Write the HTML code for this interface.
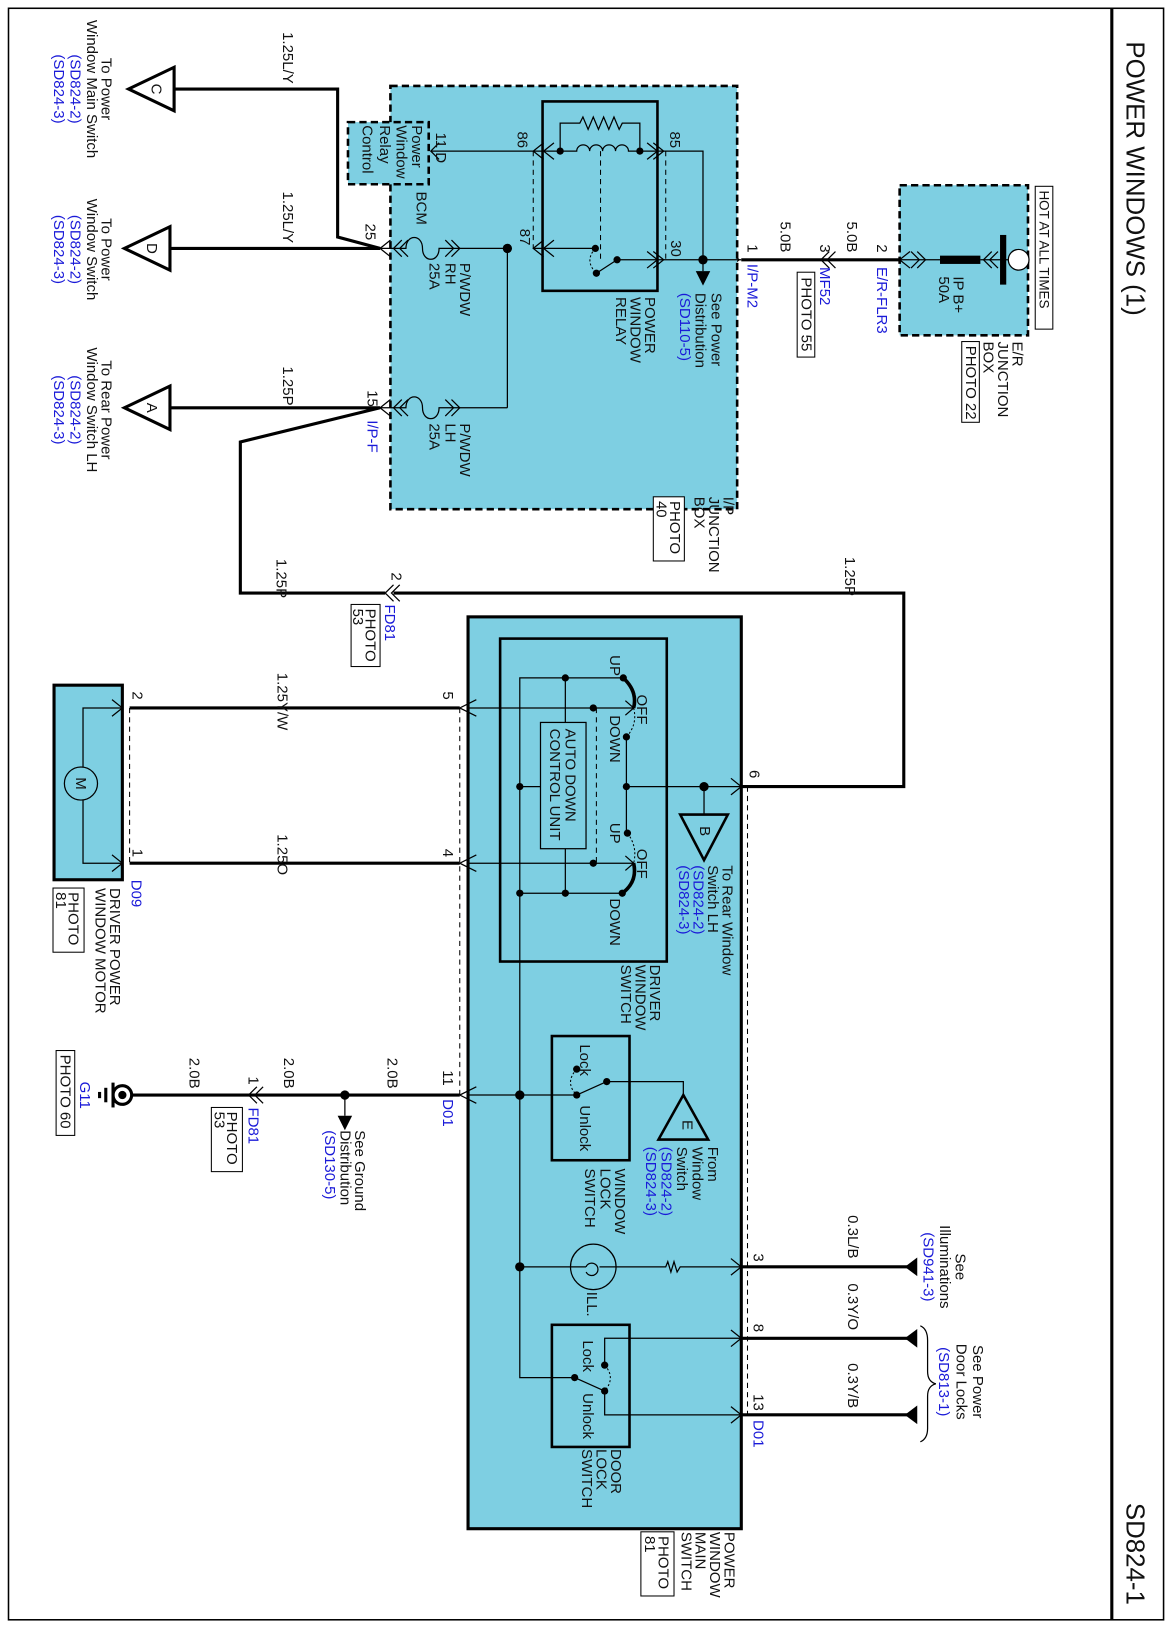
<!DOCTYPE html>
<html><head><meta charset="utf-8"><style>
html,body{margin:0;padding:0;background:#fff}
svg{display:block}
text{font-family:"Liberation Sans",Arial,sans-serif;font-size:14.5px;fill:#111}
.b{fill:#1a1ad8}
.t{stroke:#000;stroke-width:3;fill:none}
.n{stroke:#000;stroke-width:1.2;fill:none}
.d{stroke:#000;stroke-width:1;stroke-dasharray:5 4;fill:none}
.dd{stroke:#000;stroke-width:1;stroke-dasharray:2 2;fill:none}
.box{fill:#7ECFE2;stroke:#000;stroke-width:2.5;stroke-dasharray:7 4}
</style></head><body>
<svg width="1170" height="1626" viewBox="0 0 1130 1571" xmlns="http://www.w3.org/2000/svg">
<rect x="0" y="0" width="1130" height="1571" fill="#fff"/>
<rect x="8" y="8" width="1116" height="1557" fill="none" stroke="#000" stroke-width="1.5"/>
<line x1="1074" y1="8" x2="1074" y2="1565" stroke="#000" stroke-width="3"/>
<text transform="translate(1088,40) rotate(90)" style="font-size:25px">POWER WINDOWS (1)</text>
<text transform="translate(1088,1452) rotate(90)" style="font-size:25px">SD824-1</text>

<!-- E/R box -->
<rect x="869" y="179" width="124" height="145" class="box"/>
<path class="n" d="M869,251 H908 M947,251 H974"/>
<rect x="908" y="247" width="39" height="8" fill="#000"/>
<rect x="966" y="227" width="6" height="48" fill="#000"/>
<circle cx="984" cy="251" r="10" fill="#fff" stroke="#000" stroke-width="1.2"/>
<path class="n" d="M879,243 L869,251 L879,259 M880,243 L888,251 L880,259 M886,243 L894,251 L886,259 M958,243 L950,251 L958,259 M964,243 L956,251 L964,259"/>
<text transform="translate(921,267) rotate(90)">IP B+</text>
<text transform="translate(907,267) rotate(90)">50A</text>
<rect x="1000" y="180" width="17" height="138" fill="#fff" stroke="#000" stroke-width="1"/>
<text transform="translate(1004,184) rotate(90)" style="font-size:13px">HOT AT ALL TIMES</text>
<text transform="translate(978,330) rotate(90)">E/R</text>
<text transform="translate(964,330) rotate(90)">JUNCTION</text>
<text transform="translate(950,330) rotate(90)">BOX</text>
<rect x="929" y="330" width="17" height="78" fill="#fff" stroke="#000" stroke-width="1"/>
<text transform="translate(933,334) rotate(90)">PHOTO 22</text>

<!-- wire to I/P -->
<path class="t" d="M716,251 H869"/>
<path class="n" d="M801,243 L793,251 L801,259 M807,243 L799,251 L807,259 M704,243 L714,251 L704,259"/>
<text transform="translate(818,214) rotate(90)">5.0B</text>
<text transform="translate(754,214) rotate(90)">5.0B</text>
<text transform="translate(847,236) rotate(90)">2</text>
<text class="b" transform="translate(847,258) rotate(90)">E/R-FLR3</text>
<text transform="translate(792,236) rotate(90)">3</text>
<text class="b" transform="translate(792,258) rotate(90)">MF52</text>
<rect x="770" y="263" width="17" height="82" fill="#fff" stroke="#000" stroke-width="1"/>
<text transform="translate(774,268) rotate(90)">PHOTO 55</text>
<text transform="translate(722,236) rotate(90)">1</text>
<text class="b" transform="translate(722,255) rotate(90)">I/P-M2</text>

<!-- I/P box -->
<rect x="377" y="83" width="335" height="409" class="box"/>
<rect x="524" y="98" width="111" height="183" fill="none" stroke="#000" stroke-width="2.5"/>
<path class="n" d="M416,146 H541"/>
<path class="n" d="M541,146 H557 a6.25,6 0 0 1 12.5,0 a6.25,6 0 0 1 12.5,0 a6.25,6 0 0 1 12.5,0 a6.25,6 0 0 1 12.5,0 H618"/>
<path class="n" d="M541,146 V119 H560 l3,-6 l5,12 l5,-12 l5,12 l5,-12 l5,12 l5,-12 l5,12 l3,-6 H618 V146"/>
<circle cx="541" cy="146" r="3.5"/><circle cx="618" cy="146" r="3.5"/>
<path class="n" d="M618,146 H679 V262"/>
<path class="n" d="M525,138 L515,146 L525,154 M535,138 L525,146 L535,154 M631,138 L641,146 L631,154 M625,138 L635,146 L625,154"/>
<path class="n" d="M515,240 H575"/>
<path class="n" d="M525,232 L515,240 L525,248 M535,232 L525,240 L535,248 M631,243 L641,251 L631,259 M625,243 L635,251 L625,259"/>
<circle cx="575" cy="240" r="3.5"/><circle cx="576" cy="264" r="3.5"/><circle cx="596" cy="251" r="3.5"/>
<path class="n" d="M576,264 L596,251 M596,251 H716"/>
<path class="dd" d="M575,240 Q564,252 576,264"/>
<path class="d" d="M580,146 V252 M515,146 V240 M643,146 V251"/>
<circle cx="679" cy="251" r="4.5"/>
<polygon points="672,262 686,262 679,276" fill="#000"/>
<text transform="translate(623,287) rotate(90)">POWER</text>
<text transform="translate(609,287) rotate(90)">WINDOW</text>
<text transform="translate(595,287) rotate(90)">RELAY</text>
<text transform="translate(687,283) rotate(90)">See Power</text>
<text transform="translate(672,283) rotate(90)">Distribution</text>
<text class="b" transform="translate(657,283) rotate(90)">(SD110-5)</text>
<text transform="translate(500,127) rotate(90)">86</text>
<text transform="translate(647,127) rotate(90)">85</text>
<text transform="translate(502,221) rotate(90)">87</text>
<text transform="translate(648,232) rotate(90)">30</text>

<!-- fuses -->
<path class="n" d="M367,240 H392 c0,-14 16,-14 16,0 s16,14 16,0 H490 V394 M367,394 H392 c0,-14 16,-14 16,0 s16,14 16,0 H490"/>
<path class="n" d="M377,232 L367,240 L377,248 M388,232 L380,240 L388,248 M394,232 L386,240 L394,248 M430,232 L438,240 L430,248 M436,232 L444,240 L436,248"/>
<path class="n" d="M377,386 L367,394 L377,402 M388,386 L380,394 L388,402 M394,386 L386,394 L394,402 M430,386 L438,394 L430,402 M436,386 L444,394 L436,402"/>
<circle cx="490" cy="240" r="4.5"/>
<text transform="translate(444,254) rotate(90)">P/WDW</text>
<text transform="translate(430,254) rotate(90)">RH</text>
<text transform="translate(415,254) rotate(90)">25A</text>
<text transform="translate(444,409) rotate(90)">P/WDW</text>
<text transform="translate(430,409) rotate(90)">LH</text>
<text transform="translate(415,409) rotate(90)">25A</text>
<text transform="translate(699,480) rotate(90)">I/P</text>
<text transform="translate(685,480) rotate(90)">JUNCTION</text>
<text transform="translate(671,480) rotate(90)">BOX</text>
<rect x="631" y="480" width="30" height="62" fill="#fff" stroke="#000" stroke-width="1"/>
<text transform="translate(647,484) rotate(90)">PHOTO</text>
<text transform="translate(634,484) rotate(90)">40</text>

<!-- BCM -->
<rect x="336" y="118" width="78" height="60" class="box"/>
<text transform="translate(398,121) rotate(90)">Power</text>
<text transform="translate(383,121) rotate(90)">Window</text>
<text transform="translate(367,121) rotate(90)">Relay</text>
<text transform="translate(350,121) rotate(90)">Control</text>
<path class="n" d="M424,138 L416,146 L424,154"/>
<text transform="translate(421,128) rotate(90)">11 D</text>
<text transform="translate(402,185) rotate(90)">BCM</text>
<text transform="translate(353,216) rotate(90)">25</text>
<text transform="translate(355,377) rotate(90)">15</text>
<text class="b" transform="translate(355,406) rotate(90)">I/P-F</text>

<!-- left wires & triangles -->
<path class="t" d="M367,240 H164 M367,240 L326,229 V86 H168 M367,394 H164 M367,394 L232,427 V573 H372"/>
<path class="t" d="M380,573 H873 V760 H716"/>
<path class="n" d="M380,565 L372,573 L380,581 M386,565 L378,573 L386,581"/>
<polygon points="124,86 168,65 168,107" fill="#fff" stroke="#000" stroke-width="3"/>
<polygon points="120,240 164,219 164,261" fill="#fff" stroke="#000" stroke-width="3"/>
<polygon points="120,394 164,373 164,415" fill="#fff" stroke="#000" stroke-width="3"/>
<text transform="translate(146,86) rotate(90)" text-anchor="middle">C</text>
<text transform="translate(142,240) rotate(90)" text-anchor="middle">D</text>
<text transform="translate(142,394) rotate(90)" text-anchor="middle">A</text>
<text transform="translate(98,86) rotate(90)" text-anchor="middle">To Power</text>
<text transform="translate(84,86) rotate(90)" text-anchor="middle">Window Main Switch</text>
<text class="b" transform="translate(68,86) rotate(90)" text-anchor="middle">(SD824-2)</text>
<text class="b" transform="translate(52,86) rotate(90)" text-anchor="middle">(SD824-3)</text>
<text transform="translate(98,241) rotate(90)" text-anchor="middle">To Power</text>
<text transform="translate(84,241) rotate(90)" text-anchor="middle">Window Switch</text>
<text class="b" transform="translate(68,241) rotate(90)" text-anchor="middle">(SD824-2)</text>
<text class="b" transform="translate(52,241) rotate(90)" text-anchor="middle">(SD824-3)</text>
<text transform="translate(98,396) rotate(90)" text-anchor="middle">To Rear Power</text>
<text transform="translate(84,396) rotate(90)" text-anchor="middle">Window Switch LH</text>
<text class="b" transform="translate(68,396) rotate(90)" text-anchor="middle">(SD824-2)</text>
<text class="b" transform="translate(52,396) rotate(90)" text-anchor="middle">(SD824-3)</text>
<text transform="translate(273,31) rotate(90)">1.25L/Y</text>
<text transform="translate(273,185) rotate(90)">1.25L/Y</text>
<text transform="translate(273,354) rotate(90)">1.25P</text>
<text transform="translate(267,540) rotate(90)">1.25P</text>
<text transform="translate(816,538) rotate(90)">1.25P</text>
<text transform="translate(378,553) rotate(90)">2</text>
<text class="b" transform="translate(372,584) rotate(90)">FD81</text>
<rect x="339" y="584" width="28" height="60" fill="#fff" stroke="#000" stroke-width="1"/>
<text transform="translate(353,588) rotate(90)">PHOTO</text>
<text transform="translate(341,588) rotate(90)">53</text>

<!-- main switch -->
<rect x="452" y="596" width="264" height="881" fill="#7ECFE2" stroke="#000" stroke-width="3"/>
<rect x="483" y="617" width="161" height="312" fill="none" stroke="#000" stroke-width="2.5"/>
<path class="n" d="M452,684 H612 M452,834 H612 M604,677 L612,684 L604,691 M604,827 L612,834 L604,841"/>
<path class="n" d="M460,676 L444,684 L460,692 M460,826 L444,834 L460,842"/>
<path d="M602,655 Q616,668 612,684 M612,834 Q616,852 601,863" stroke="#000" stroke-width="3.5" fill="none"/>
<path class="dd" d="M612,684 Q616,700 605,712 M606,805 Q616,818 612,834"/>
<path class="n" d="M602,655 H502 V1331 H555 M546,655 V698 M546,820 V863 M601,863 H502 M605,712 V805 M605,760 H716 M522,760 H502"/>
<path class="d" d="M576,684 V834"/>
<circle cx="602" cy="655" r="3.5"/><circle cx="605" cy="712" r="3.5"/><circle cx="573" cy="684" r="3.5"/>
<circle cx="546" cy="655" r="3.5"/><circle cx="502" cy="760" r="3.5"/><circle cx="605" cy="760" r="3.5"/>
<circle cx="606" cy="805" r="3.5"/><circle cx="573" cy="834" r="3.5"/><circle cx="601" cy="863" r="3.5"/>
<circle cx="546" cy="863" r="3.5"/><circle cx="502" cy="863" r="3.5"/><circle cx="680" cy="760" r="4.5"/>
<rect x="522" y="698" width="44" height="122" fill="none" stroke="#000" stroke-width="1.2"/>
<text transform="translate(546,704) rotate(90)">AUTO DOWN</text>
<text transform="translate(531,704) rotate(90)">CONTROL UNIT</text>
<text transform="translate(589,633) rotate(90)">UP</text>
<text transform="translate(615,671) rotate(90)">OFF</text>
<text transform="translate(589,691) rotate(90)">DOWN</text>
<text transform="translate(589,795) rotate(90)">UP</text>
<text transform="translate(615,820) rotate(90)">OFF</text>
<text transform="translate(589,868) rotate(90)">DOWN</text>
<path class="n" d="M680,760 V787 M706,752 L716,760 L706,768"/>
<polygon points="657,787 703,787 680,831" fill="none" stroke="#000" stroke-width="2.5"/>
<text transform="translate(676,803) rotate(90)" text-anchor="middle">B</text>
<text transform="translate(698,836) rotate(90)">To Rear Window</text>
<text transform="translate(684,836) rotate(90)">Switch LH</text>
<text class="b" transform="translate(670,836) rotate(90)">(SD824-2)</text>
<text class="b" transform="translate(656,836) rotate(90)">(SD824-3)</text>
<text transform="translate(628,932) rotate(90)">DRIVER</text>
<text transform="translate(614,932) rotate(90)">WINDOW</text>
<text transform="translate(600,932) rotate(90)">SWITCH</text>
<text transform="translate(428,668) rotate(90)">5</text>
<text transform="translate(428,820) rotate(90)">4</text>
<text transform="translate(724,744) rotate(90)">6</text>

<!-- window lock -->
<rect x="533" y="1001" width="75" height="120" fill="none" stroke="#000" stroke-width="2.5"/>
<path class="n" d="M452,1058 H557 M557,1058 L586,1045 M586,1045 H660 V1058 M460,1050 L444,1058 L460,1066"/>
<circle cx="502" cy="1058" r="4.5"/><circle cx="557" cy="1058" r="3.5"/><circle cx="557" cy="1033" r="3.5"/><circle cx="586" cy="1045" r="3.5"/>
<path class="dd" d="M557,1033 Q545,1046 557,1058"/>
<polygon points="660,1058 684,1101 636,1101" fill="none" stroke="#000" stroke-width="2.5"/>
<text transform="translate(659,1087) rotate(90)" text-anchor="middle">E</text>
<text transform="translate(560,1009) rotate(90)">Lock</text>
<text transform="translate(560,1068) rotate(90)">Unlock</text>
<text transform="translate(684,1108) rotate(90)">From</text>
<text transform="translate(669,1108) rotate(90)">Window</text>
<text transform="translate(654,1108) rotate(90)">Switch</text>
<text class="b" transform="translate(639,1108) rotate(90)">(SD824-2)</text>
<text class="b" transform="translate(624,1108) rotate(90)">(SD824-3)</text>
<text transform="translate(594,1129) rotate(90)">WINDOW</text>
<text transform="translate(580,1129) rotate(90)">LOCK</text>
<text transform="translate(565,1129) rotate(90)">SWITCH</text>
<text transform="translate(428,1034) rotate(90)">11</text>
<text class="b" transform="translate(428,1062) rotate(90)">D01</text>

<!-- illumination -->
<circle cx="502" cy="1224" r="4.5"/>
<circle cx="573" cy="1224" r="22" fill="none" stroke="#000" stroke-width="1.2"/>
<path class="n" d="M502,1224 H566 M566,1224 a6,6 0 1 1 0.1,5 M579,1224 H595 M595,1224 H643 l2,-5 l3,10 l3,-10 l3,10 l3,-5 H716 M706,1216 L716,1224 L706,1232"/>
<text transform="translate(567,1248) rotate(90)">ILL.</text>

<!-- door lock -->
<rect x="533" y="1280" width="75" height="118" fill="none" stroke="#000" stroke-width="2.5"/>
<circle cx="555" cy="1331" r="3.5"/><circle cx="584" cy="1319" r="3.5"/><circle cx="584" cy="1344" r="3.5"/>
<path class="n" d="M555,1331 L584,1344 M584,1319 V1293 H716 M584,1344 V1367 H716 M706,1285 L716,1293 L706,1301 M706,1359 L716,1367 L706,1375"/>
<path class="dd" d="M584,1319 Q595,1331 584,1344"/>
<text transform="translate(563,1295) rotate(90)">Lock</text>
<text transform="translate(563,1346) rotate(90)">Unlock</text>
<text transform="translate(590,1400) rotate(90)">DOOR</text>
<text transform="translate(576,1400) rotate(90)">LOCK</text>
<text transform="translate(562,1400) rotate(90)">SWITCH</text>
<text transform="translate(700,1480) rotate(90)">POWER</text>
<text transform="translate(686,1480) rotate(90)">WINDOW</text>
<text transform="translate(672,1480) rotate(90)">MAIN</text>
<text transform="translate(658,1480) rotate(90)">SWITCH</text>
<rect x="619" y="1480" width="32" height="62" fill="#fff" stroke="#000" stroke-width="1"/>
<text transform="translate(636,1484) rotate(90)">PHOTO</text>
<text transform="translate(623,1484) rotate(90)">81</text>

<!-- right side wires -->
<path class="d" d="M722,760 V1367 M444,684 V1058 M125,684 V834"/>
<path class="t" d="M716,1224 H880 M716,1293 H880 M716,1367 H880"/>
<polygon points="874,1224 886,1215 886,1233" fill="#000"/>
<polygon points="874,1293 886,1284 886,1302" fill="#000"/>
<polygon points="874,1367 886,1358 886,1376" fill="#000"/>
<path class="n" d="M889,1281 Q896,1284 896,1295 V1325 Q896,1335 904,1337 Q896,1339 896,1349 V1380 Q896,1390 889,1393"/>
<text transform="translate(728,1211) rotate(90)">3</text>
<text transform="translate(728,1279) rotate(90)">8</text>
<text transform="translate(728,1347) rotate(90)">13</text>
<text class="b" transform="translate(728,1372) rotate(90)">D01</text>
<text transform="translate(819,1174) rotate(90)">0.3L/B</text>
<text transform="translate(819,1240) rotate(90)">0.3Y/O</text>
<text transform="translate(819,1317) rotate(90)">0.3Y/B</text>
<text transform="translate(923,1224) rotate(90)" text-anchor="middle">See</text>
<text transform="translate(908,1224) rotate(90)" text-anchor="middle">Illuminations</text>
<text class="b" transform="translate(892,1224) rotate(90)" text-anchor="middle">(SD941-3)</text>
<text transform="translate(940,1335) rotate(90)" text-anchor="middle">See Power</text>
<text transform="translate(924,1335) rotate(90)" text-anchor="middle">Door Locks</text>
<text class="b" transform="translate(907,1335) rotate(90)" text-anchor="middle">(SD813-1)</text>

<!-- motor -->
<rect x="52" y="662" width="66" height="188" fill="#7ECFE2" stroke="#000" stroke-width="3"/>
<path class="n" d="M118,684 H80 V741 M80,773 V834 H118 M108,676 L118,684 L108,692 M108,826 L118,834 L108,842"/>
<circle cx="78" cy="757" r="16" fill="#7ECFE2" stroke="#000" stroke-width="1.2"/>
<text transform="translate(73,757) rotate(90)" text-anchor="middle">M</text>
<path class="t" d="M125,684 H444 M125,834 H444"/>
<text transform="translate(128,668) rotate(90)">2</text>
<text transform="translate(128,820) rotate(90)">1</text>
<text transform="translate(268,650) rotate(90)">1.25Y/W</text>
<text transform="translate(268,806) rotate(90)">1.25O</text>
<text class="b" transform="translate(127,850) rotate(90)">D09</text>
<text transform="translate(106,858) rotate(90)">DRIVER POWER</text>
<text transform="translate(92,858) rotate(90)">WINDOW MOTOR</text>
<rect x="51" y="858" width="30" height="62" fill="#fff" stroke="#000" stroke-width="1"/>
<text transform="translate(66,862) rotate(90)">PHOTO</text>
<text transform="translate(54,862) rotate(90)">81</text>

<!-- ground -->
<path class="t" d="M444,1058 H127"/>
<circle cx="118" cy="1058" r="9" fill="#fff" stroke="#000" stroke-width="3"/>
<circle cx="118" cy="1058" r="4"/>
<path d="M109,1046 V1070" stroke="#000" stroke-width="3"/>
<path d="M102,1051 V1065" stroke="#000" stroke-width="3"/>
<path d="M96,1055 V1061" stroke="#000" stroke-width="3"/>
<circle cx="333" cy="1058" r="4.5"/>
<path class="n" d="M333,1058 V1078 M248,1050 L240,1058 L248,1066 M254,1050 L246,1058 L254,1066"/>
<polygon points="326,1078 340,1078 333,1092" fill="#000"/>
<text transform="translate(343,1092) rotate(90)">See Ground</text>
<text transform="translate(329,1092) rotate(90)">Distribution</text>
<text class="b" transform="translate(314,1092) rotate(90)">(SD130-5)</text>
<text transform="translate(240,1040) rotate(90)">1</text>
<text class="b" transform="translate(240,1070) rotate(90)">FD81</text>
<rect x="204" y="1070" width="30" height="62" fill="#fff" stroke="#000" stroke-width="1"/>
<text transform="translate(219,1074) rotate(90)">PHOTO</text>
<text transform="translate(207,1074) rotate(90)">53</text>
<text transform="translate(183,1022) rotate(90)">2.0B</text>
<text transform="translate(274,1022) rotate(90)">2.0B</text>
<text transform="translate(374,1022) rotate(90)">2.0B</text>
<text class="b" transform="translate(77,1045) rotate(90)">G11</text>
<rect x="54" y="1015" width="18" height="82" fill="#fff" stroke="#000" stroke-width="1"/>
<text transform="translate(58,1019) rotate(90)">PHOTO 60</text>
</svg>
</body></html>
